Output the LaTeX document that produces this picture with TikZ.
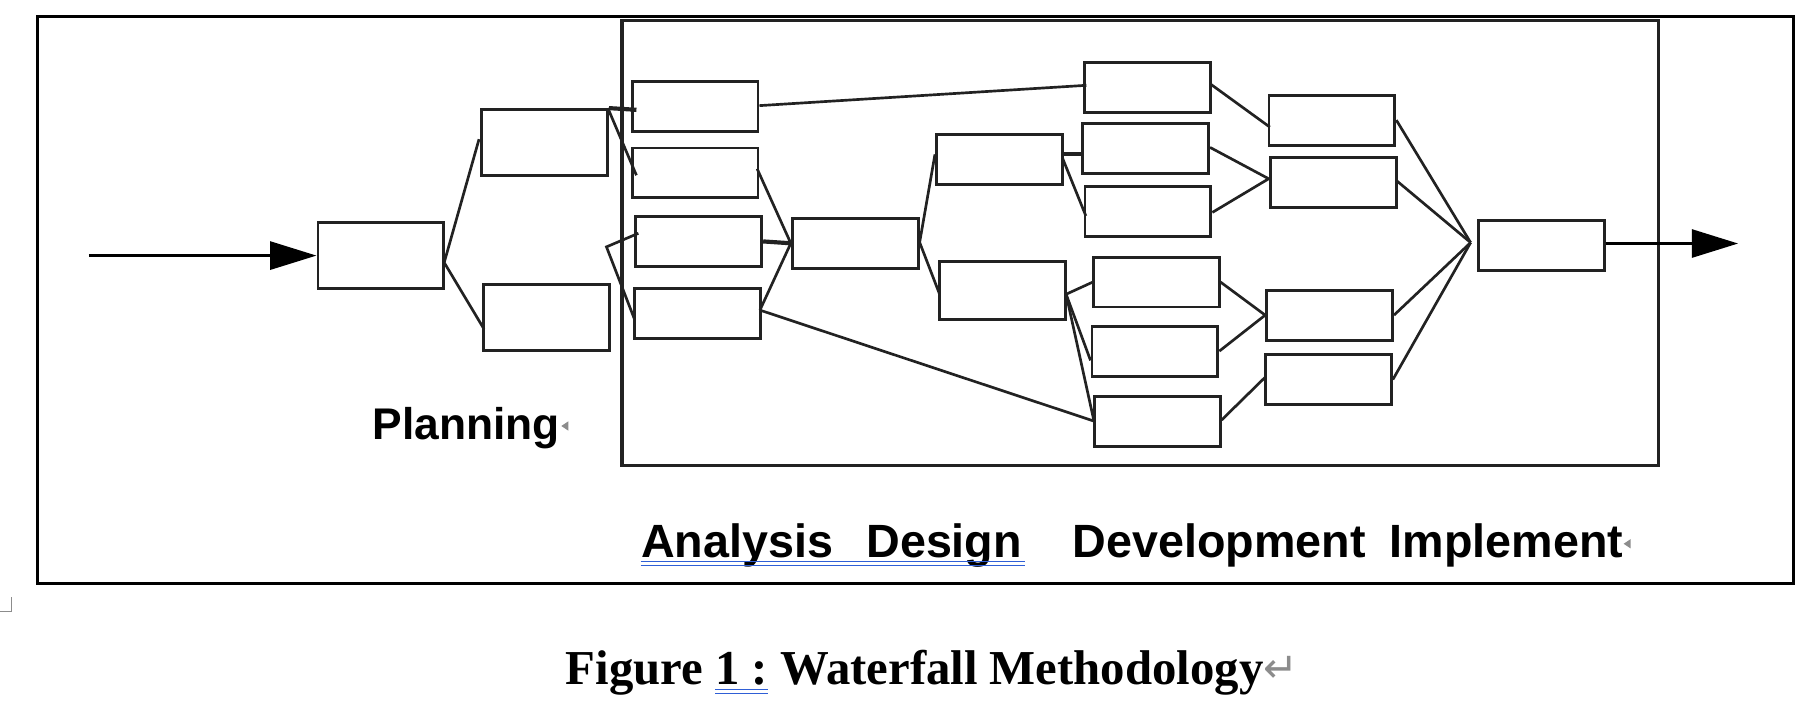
\documentclass[tikz,border=0pt]{standalone}
\usepackage{fontspec}
\setmainfont{Liberation Serif}
\newfontfamily\labelfont{Liberation Sans}
\newfontfamily\dvfont{DejaVu Sans}
\usetikzlibrary{arrows.meta,calc}
\definecolor{ln}{HTML}{222222}
\definecolor{ulblue}{HTML}{2F5FD6}
\definecolor{mkgrey}{HTML}{8C8C8C}
\newsavebox\ulbox
\newcommand\dblul[1]{\sbox\ulbox{#1}\rlap{\color{ulblue}\rule[-2.3pt]{\wd\ulbox}{0.5pt}}\rlap{\color{ulblue}\rule[-3.9pt]{\wd\ulbox}{0.5pt}}\usebox\ulbox}
\begin{document}
\begin{tikzpicture}[x=0.5pt,y=-0.5pt,
  wbox/.style={draw=ln,line width=1.25pt,inner sep=0pt,minimum width=54.25pt,minimum height=21.5pt},
  tallbox/.style={wbox,minimum height=28.5pt},
  conn/.style={draw=ln,line width=1.15pt},
  heavyconn/.style={draw=ln,line width=1.8pt},
  bigarrow/.style={draw=black,line width=1.5pt,-{Triangle[length=20pt,width=12pt]}},
  lbl/.style={font=\labelfont\bfseries\fontsize{20.1pt}{22pt}\selectfont,inner sep=0pt,anchor=base west},
  frame/.style={inner sep=0pt}]
\useasboundingbox (0,0) rectangle (1568,604);
% frames
\node[frame,draw=black,line width=1.25pt,minimum width=756.25pt,minimum height=244.2pt] (outer) at (788.75,258.8) {};
\node[frame,draw=ln,line width=1.5pt,minimum width=446.5pt,minimum height=191.65pt] (inner) at (982.5,209.35) {};
% boxes
\node[tallbox] (A) at (328.2,220.2) {};
\node[tallbox] (B1) at (469.2,122.9) {};
\node[tallbox] (B2) at (470.5,273.5) {};
\node[wbox] (C1) at (598.8,92) {};
\node[wbox] (C2) at (598.8,149) {};
\node[wbox] (C3) at (602,208) {};
\node[wbox] (C4) at (601.2,270.2) {};
\node[wbox] (D) at (736.8,209.6) {};
\node[wbox] (D2) at (861,137.5) {};
\node[wbox,minimum height=25pt] (D3) at (864,250.5) {};
\node[wbox] (E1) at (988.5,75.5) {};
\node[wbox] (E2) at (987,128) {};
\node[wbox] (E3) at (989,182) {};
\node[wbox] (F1) at (1147.5,103.5) {};
\node[wbox] (F2) at (1148.5,157.5) {};
\node[wbox] (G1) at (996,243) {};
\node[wbox] (G2) at (995,302.5) {};
\node[wbox] (G3) at (997,362.8) {};
\node[wbox] (H1) at (1145.5,271.5) {};
\node[wbox] (H2) at (1144.5,327) {};
\node[wbox] (K) at (1328,211.8) {};
% free coordinates
\coordinate (in) at (76.5,220.2);
\coordinate (J1) at (522.5,212.7);
\coordinate (JK) at (1267,209);
\coordinate (out) at (1497.5,209.8);
% connectors
\draw[bigarrow] (in) -- (A.west);
\draw[conn] ($(B1.west)+(-1,-3)$) -- ($(A.east)+(-1,6)$) -- ($(B2.west)+(2,10)$);
\draw[heavyconn] (B1.north east) -- ($(C1.west)+(5,2.6)$);
\draw[conn] ($(B1.north east)+(-1,0)$) -- ($(C2.west)+(5,2)$);
\draw[conn] ($(C3.west)+(3.5,-7)$) -- (J1) -- ($(C4.west)+(1,5)$);
\draw[conn] ($(C2.east)+(-2,-3.6)$) -- (D.west) -- ($(C4.east)+(-2,-3)$);
\draw[heavyconn] (C3.east) -- (D.west);
\draw[conn] ($(C1.east)+(0,-1)$) -- ($(E1.west)+(3,-2)$);
\draw[conn] ($(C4.east)+(-2,-3)$) -- ($(G3.west)+(1,0)$);
\draw[conn] ($(D2.west)+(0,-4.5)$) -- ($(D.east)+(0,-0.8)$) -- ($(D3.west)+(1,3)$);
\draw[heavyconn] ($(D2.east)+(-1,-4.5)$) -- ($(E2.west)+(0,5)$);
\draw[conn] ($(D2.east)+(-1,-1)$) -- ($(E3.west)+(2,4)$);
\draw[conn] ($(G1.west)+(1,0)$) -- ($(D3.east)+(-1,3)$) -- ($(G2.west)+(0,8)$);
\draw[conn] ($(D3.east)+(-1,3)$) -- ($(G3.west)+(1,0)$);
\draw[conn] ($(E1.east)+(-1,-3)$) -- ($(F1.west)+(2,6)$);
\draw[conn] ($(E2.east)+(0,-1)$) -- ($(F2.west)+(0,-3.5)$) -- ($(E3.east)+(0,1)$);
\draw[conn] (G1.east) -- (H1.west) -- (G2.east);
\draw[conn] ($(G3.east)+(0,-1)$) -- ($(H2.west)+(1,-2)$);
\draw[conn] (F1.east) -- (JK);
\draw[conn] ($(F2.east)+(-1,-2)$) -- (JK);
\draw[conn] (H1.east) -- (JK);
\draw[conn] (H2.east) -- (JK);
\draw[bigarrow] ($(K.east)+(0,-2)$) -- (out);
% labels
\node[lbl,font=\labelfont\bfseries\fontsize{19.1pt}{21pt}\selectfont] (plan) at (320.5,379) {Planning};
\node[lbl] (ana) at (552,480.5) {Analysis};
\node[lbl] (des) at (746,480.5) {Design};
\node[lbl] (dev) at (924,480.5) {Development};
\node[lbl] (imp) at (1197,480.5) {Implement};
\draw[ulblue,line width=0.5pt] ($(ana.base west)+(0,3.6)$) -- ($(des.base east)+(2,3.6)$);
\draw[ulblue,line width=0.5pt] ($(ana.base west)+(0,7)$) -- ($(des.base east)+(2,7)$);
\fill[mkgrey] ($(plan.base east)+(1,-12)$) -- ++(6,-4) -- ++(0,8) -- cycle;
\fill[mkgrey] ($(imp.base east)+(0,-12)$) -- ++(6,-4) -- ++(0,8) -- cycle;
% caption
\node[anchor=base west,inner sep=0pt,font=\bfseries\fontsize{21pt}{24pt}\selectfont] (cap) at (487,590) {Figure \dblul{1 :} Waterfall Methodology{\dvfont\mdseries\fontsize{18pt}{18pt}\selectfont\color{mkgrey}\raisebox{1pt}{↵}}};
% corner mark
\draw[mkgrey,line width=0.6pt] (0,527) -- (10,527) -- (10,514);
\end{tikzpicture}
\end{document}
